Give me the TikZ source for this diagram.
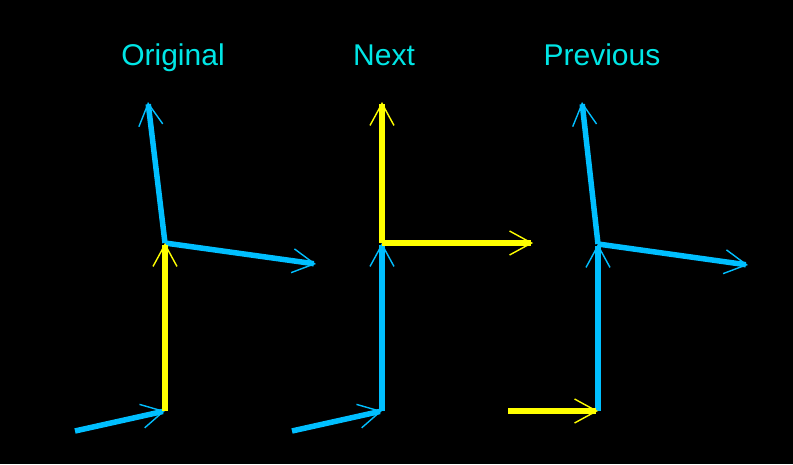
\documentclass[tikz,border=0pt]{standalone}
\usepackage{fontspec}
\setmainfont{Liberation Sans}
\usetikzlibrary{arrows.meta}
\definecolor{achsblau}{RGB}{0,191,255}
\definecolor{achsgelb}{RGB}{255,255,0}
\definecolor{titeltuerkis}{RGB}{0,230,230}
\tikzset{
  pfeil/.style={line width=5.5pt, -{Straight Barb[length=22pt,width=24pt,line width=1.4pt]}},
  titel/.style={anchor=base, text=titeltuerkis, font=\fontsize{30}{36}\selectfont},
}
\begin{document}
\begin{tikzpicture}[x=1pt, y=-1pt]
		\fill[black] (0,0) rectangle (793,464);
		\useasboundingbox (0,0) rectangle (793,464);
		% Titel oben
		\node[titel] (tOrig) at (173,65) {Original};
		\node[titel] (tNext) at (384,65) {Next};
		\node[titel] (tPrev) at (602,65) {Previous};
		% Linkes Bild: Original
		\coordinate (o0) at (75,431);
		\coordinate (o1) at (165,411);
		\coordinate (o2) at (165,243);
		\coordinate (o3) at (148,102);
		\coordinate (o4) at (316,264);
		\draw[pfeil, achsblau] (o0) -- (o1);
		\draw[pfeil, achsblau] (o2) -- (o3);
		\draw[pfeil, achsblau] (o2) -- (o4);
		\draw[pfeil, achsgelb] (o1) -- (o2);
		% Mittleres Bild: Next
		\coordinate (n0) at (292,431);
		\coordinate (n1) at (382,411);
		\coordinate (n2) at (382,243);
		\coordinate (n3) at (382,102);
		\coordinate (n4) at (533,243);
		\draw[pfeil, achsblau] (n0) -- (n1);
		\draw[pfeil, achsblau] (n1) -- (n2);
		\draw[pfeil, achsgelb] (n2) -- (n3);
		\draw[pfeil, achsgelb] (n2) -- (n4);
		% Rechtes Bild: Previous
		\coordinate (p0) at (508,411);
		\coordinate (p1) at (598,411);
		\coordinate (p2) at (598,244);
		\coordinate (p3) at (582,102);
		\coordinate (p4) at (748,265);
		\draw[pfeil, achsblau] (p1) -- (p2);
		\draw[pfeil, achsblau] (p2) -- (p3);
		\draw[pfeil, achsblau] (p2) -- (p4);
		\draw[pfeil, achsgelb] (p0) -- (p1);
\end{tikzpicture}
\end{document}
